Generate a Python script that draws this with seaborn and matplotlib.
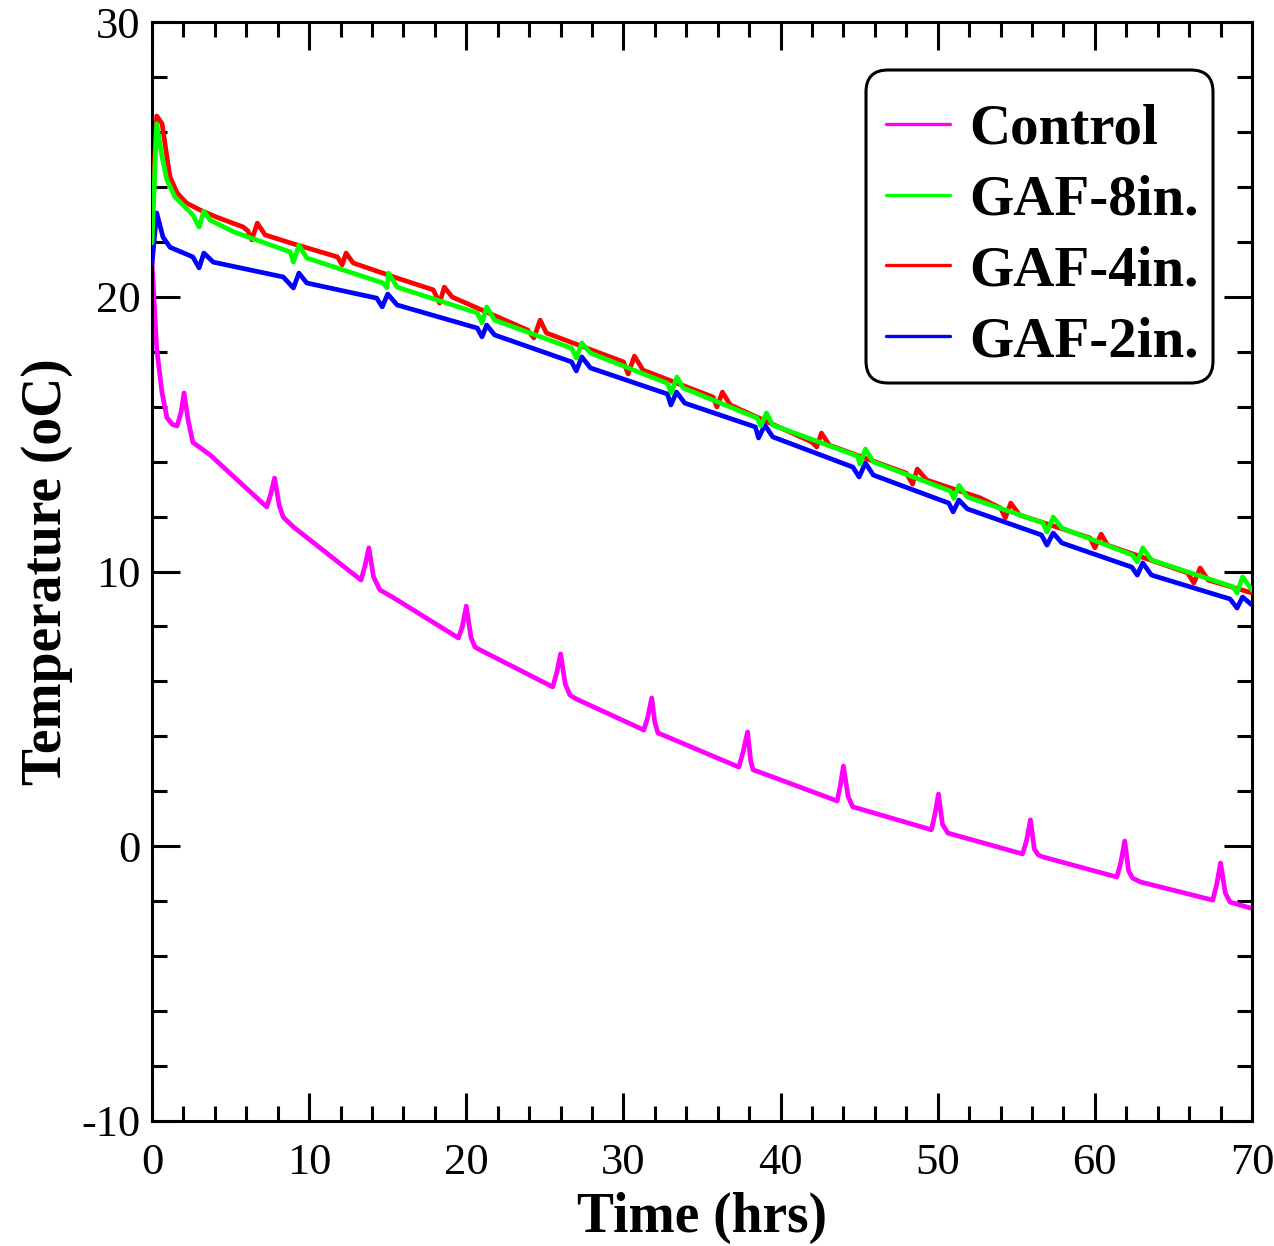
import numpy as np
import pandas as pd
import matplotlib
matplotlib.use("Agg")
import matplotlib.pyplot as plt
from matplotlib.lines import Line2D
from matplotlib.patches import FancyBboxPatch
from matplotlib.ticker import MultipleLocator
import seaborn as sns

# ---------------- data ----------------
series_names = ["Control", "GAF-8in.", "GAF-4in.", "GAF-2in."]
series_colors = ["#FF00FF", "#00FF00", "#FF0000", "#0000FF"]

control_t = [0, 0.3, 0.64, 0.95, 1.3, 1.6, 1.85, 2.04, 2.3, 2.6, 3.7,
             7.3, 7.55, 7.8, 8.1, 8.35, 9.0,
             13.3, 13.55, 13.8, 14.1, 14.5, 15.3,
             19.5, 19.75, 20.0, 20.3, 20.55, 20.9,
             25.5, 25.75, 26.0, 26.3, 26.6, 27.0,
             31.3, 31.55, 31.8, 32.0, 32.2, 32.8,
             37.35, 37.6, 37.9, 38.1, 38.25, 38.8,
             43.6, 43.8, 44.0, 44.3, 44.6, 45.05,
             49.6, 49.8, 50.05, 50.3, 50.65,
             55.4, 55.65, 55.9, 56.15, 56.4, 56.7,
             61.4, 61.65, 61.9, 62.15, 62.4, 62.9,
             67.5, 67.75, 68.0, 68.3, 68.6, 69.9]
control_T = [21.26, 18.1, 16.5, 15.6, 15.35, 15.3, 15.8, 16.5, 15.5, 14.7, 14.24,
             12.35, 12.8, 13.4, 12.4, 11.98, 11.62,
             9.69, 10.2, 10.86, 9.8, 9.33, 9.07,
             7.58, 8.0, 8.74, 7.6, 7.25, 7.14,
             5.8, 6.3, 7.0, 5.9, 5.5, 5.36,
             4.23, 4.7, 5.4, 4.5, 4.12, 3.98,
             2.88, 3.4, 4.16, 3.1, 2.78, 2.67,
             1.65, 2.2, 2.92, 1.8, 1.43, 1.36,
             0.6, 1.1, 1.9, 0.8, 0.48,
             -0.28, 0.2, 0.96, -0.1, -0.32, -0.39,
             -1.12, -0.6, 0.19, -0.9, -1.16, -1.3,
             -1.96, -1.4, -0.61, -1.7, -2.03, -2.25]

gaf8_t = [0, 0.3, 0.64, 0.95, 1.46, 2.6, 3.0, 3.3, 3.7, 5.2,
          8.8, 9.0, 9.35, 9.85, 14.7, 14.95, 15.05, 15.6,
          20.7, 21.0, 21.3, 21.8, 26.7, 27.0, 27.35, 27.9,
          32.8, 33.05, 33.4, 33.8, 38.5, 38.75, 39.1, 39.5,
          44.9, 45.05, 45.4, 45.9, 50.8, 51.03, 51.35, 51.88,
          56.7, 56.95, 57.35, 57.9, 62.4, 62.7, 63.05, 63.6,
          68.8, 69.05, 69.4, 70.0]
gaf8_T = [21.96, 26.3, 25.09, 24.25, 23.63, 22.98, 22.54, 23.12, 22.79, 22.36,
          21.63, 21.26, 21.88, 21.41, 20.5, 20.33, 20.86, 20.35,
          19.41, 19.05, 19.63, 19.15, 18.13, 17.77, 18.32, 17.95,
          16.85, 16.5, 17.08, 16.68, 15.59, 15.3, 15.77, 15.33,
          14.2, 13.91, 14.46, 13.99, 12.93, 12.66, 13.13, 12.71,
          11.77, 11.44, 11.98, 11.58, 10.6, 10.35, 10.86, 10.42,
          9.44, 9.22, 9.8, 9.33]

gaf4_t = [0, 0.3, 0.64, 0.95, 1.15, 1.6, 2.2, 3.05, 4.1, 5.8,
          6.1, 6.35, 6.7, 7.2, 8.8, 11.8, 12.1, 12.35, 12.8, 15.6,
          17.9, 18.3, 18.6, 19.1, 23.9, 24.3, 24.7, 25.1,
          30.0, 30.3, 30.7, 31.25, 33.2, 35.7, 35.95, 36.3, 36.8,
          42.0, 42.3, 42.6, 43.1, 48.0, 48.4, 48.7, 49.3, 52.7,
          54.0, 54.3, 54.65, 55.2, 59.7, 60.0, 60.4, 60.8,
          65.9, 66.3, 66.7, 67.2, 70.0]
gaf4_T = [22.9, 26.58, 26.3, 25.09, 24.36, 23.78, 23.41, 23.16, 22.9, 22.54,
          22.4, 22.07, 22.68, 22.25, 21.96, 21.45, 21.16, 21.59, 21.23, 20.68,
          20.25, 19.77, 20.35, 19.99, 18.79, 18.5, 19.15, 18.68,
          17.63, 17.19, 17.84, 17.33, 16.9, 16.35, 15.99, 16.53, 16.06,
          14.71, 14.53, 15.04, 14.6, 13.58, 13.18, 13.73, 13.33, 12.68,
          12.31, 11.95, 12.49, 12.06, 11.22, 10.86, 11.36, 10.96,
          9.95, 9.58, 10.13, 9.69, 9.22]

gaf2_t = [0, 0.3, 0.7, 1.15, 2.6, 3.0, 3.3, 3.9,
          8.35, 9.0, 9.35, 9.85, 14.3, 14.65, 15.0, 15.6,
          20.7, 21.0, 21.3, 21.8, 26.7, 27.0, 27.35, 27.9,
          32.8, 33.02, 33.38, 33.9, 38.4, 38.6, 39.0, 39.5,
          44.6, 45.0, 45.4, 45.9, 50.7, 50.98, 51.35, 51.88,
          56.6, 56.95, 57.35, 57.9, 62.35, 62.7, 63.05, 63.6,
          68.6, 69.05, 69.4, 70.0]
gaf2_T = [21.2, 23.05, 22.17, 21.8, 21.45, 21.05, 21.59, 21.26,
          20.72, 20.32, 20.86, 20.5, 19.95, 19.63, 20.1, 19.7,
          18.86, 18.54, 18.97, 18.61, 17.63, 17.3, 17.81, 17.41,
          16.46, 16.06, 16.53, 16.13, 15.26, 14.86, 15.33, 14.9,
          13.8, 13.44, 13.95, 13.51, 12.49, 12.17, 12.6, 12.28,
          11.33, 10.96, 11.4, 11.04, 10.16, 9.87, 10.31, 9.87,
          9.0, 8.67, 9.07, 8.78]

x_ticks = [0, 10, 20, 30, 40, 50, 60, 70]
y_ticks = [-10, 0, 10, 20, 30]
x_label = "Time (hrs)"
y_label = "Temperature (oC)"

# ---------------- build long-form table ----------------
frames = []
for name, tt, TT in zip(series_names,
                        [control_t, gaf8_t, gaf4_t, gaf2_t],
                        [control_T, gaf8_T, gaf4_T, gaf2_T]):
    frames.append(pd.DataFrame({"t": tt, "T": TT, "series": name}))
df = pd.concat(frames, ignore_index=True)

# ---------------- styling ----------------
sns.set_theme(style="white")
plt.rcParams["font.family"] = ["Liberation Serif", "DejaVu Serif"]
plt.rcParams["axes.unicode_minus"] = False
for key in ["text.color", "axes.labelcolor", "xtick.color", "ytick.color",
            "axes.edgecolor"]:
    plt.rcParams[key] = "black"

W, H = 1274, 1246
AX_L, AX_R, AX_T, AX_B = 152, 1252, 22, 1121
fig = plt.figure(figsize=(W / 100, H / 100), dpi=100)
ax = fig.add_axes([AX_L / W, 1 - AX_B / H, (AX_R - AX_L) / W, (AX_B - AX_T) / H])

palette = dict(zip(series_names, series_colors))
sns.lineplot(data=df, x="t", y="T", hue="series", hue_order=series_names,
             palette=palette, estimator=None, sort=False, units="series",
             linewidth=3.4, legend=False, ax=ax)

# draw order: green above red
zorders = {"Control": 2, "GAF-8in.": 5, "GAF-4in.": 4, "GAF-2in.": 3}
for line, name in zip(ax.lines, series_names):
    line.set_zorder(zorders[name])
    line.set_solid_joinstyle("round")

ax.set_xlim(0, 70)
ax.set_ylim(-10, 30)
ax.set_xticks(x_ticks)
ax.set_yticks(y_ticks)
ax.xaxis.set_minor_locator(MultipleLocator(2))
ax.yaxis.set_minor_locator(MultipleLocator(2))

ax.tick_params(which="both", direction="in", top=True, right=True,
               bottom=True, left=True, width=2.2, color="black",
               labelcolor="black")
ax.tick_params(which="major", length=20)
ax.tick_params(which="minor", length=10.5)
ax.tick_params(axis="x", which="major", labelsize=32, pad=16)
ax.tick_params(axis="y", which="major", labelsize=32, pad=8)

for sp in ax.spines.values():
    sp.set_linewidth(2.2)
    sp.set_color("black")

ax.set_xlabel(x_label, fontsize=40, fontweight="bold", labelpad=6,
              color="black")
ax.set_ylabel(y_label, fontsize=40, fontweight="bold", labelpad=6,
              color="black")

# ---- legend: rounded frame drawn as a patch, entries without frame ----
def ax_x(px):
    return (px - AX_L) / (AX_R - AX_L)

def ax_y(py):
    return (AX_B - py) / (AX_B - AX_T)

box_l, box_r, box_t, box_b = 866, 1213, 70, 383
frame_patch = FancyBboxPatch((ax_x(box_l), ax_y(box_b)),
                             ax_x(box_r) - ax_x(box_l), ax_y(box_t) - ax_y(box_b),
                             boxstyle="round,pad=0,rounding_size=0.02",
                             transform=ax.transAxes, facecolor="white",
                             edgecolor="black", linewidth=2.2, zorder=9,
                             clip_on=False)
ax.add_patch(frame_patch)

handles = [Line2D([0], [0], color=c, lw=2.4) for c in series_colors]
leg = ax.legend(handles, series_names, loc="center left",
                bbox_to_anchor=(ax_x(886), ax_y((130 + 342) / 2)),
                borderaxespad=0, frameon=False,
                prop={"family": "Liberation Serif", "weight": "bold", "size": 41},
                handlelength=1.12, handletextpad=0.35, labelspacing=0.33,
                borderpad=0)
leg.set_zorder(10)
for txt in leg.get_texts():
    txt.set_color("black")

fig.savefig("out.png", dpi=100, facecolor="white")
